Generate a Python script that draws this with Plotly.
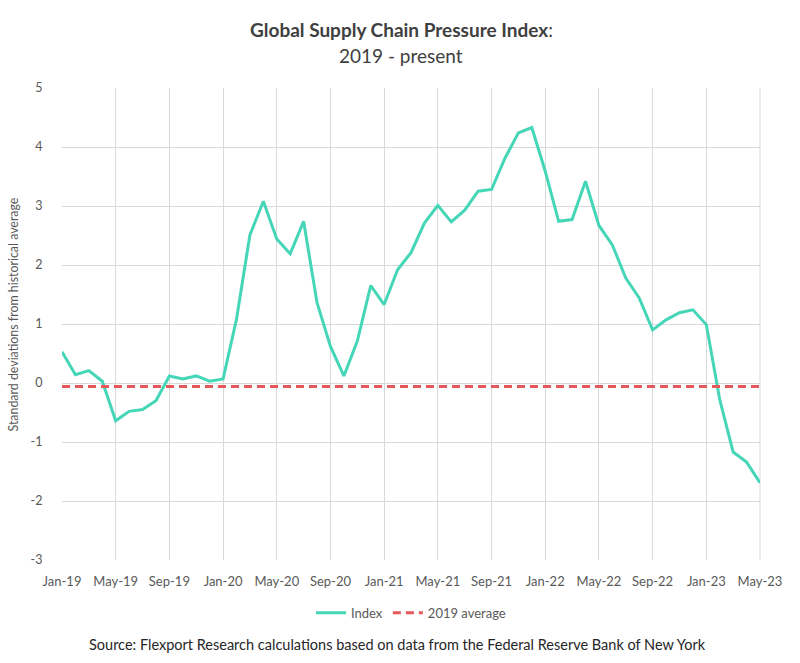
import plotly.graph_objects as go

months = ["Jan-19","Feb-19","Mar-19","Apr-19","May-19","Jun-19","Jul-19","Aug-19","Sep-19","Oct-19","Nov-19","Dec-19",
          "Jan-20","Feb-20","Mar-20","Apr-20","May-20","Jun-20","Jul-20","Aug-20","Sep-20","Oct-20","Nov-20","Dec-20",
          "Jan-21","Feb-21","Mar-21","Apr-21","May-21","Jun-21","Jul-21","Aug-21","Sep-21","Oct-21","Nov-21","Dec-21",
          "Jan-22","Feb-22","Mar-22","Apr-22","May-22","Jun-22","Jul-22","Aug-22","Sep-22","Oct-22","Nov-22","Dec-22",
          "Jan-23","Feb-23","Mar-23","Apr-23","May-23"]

index_values = [0.53, 0.14, 0.21, 0.03, -0.64, -0.48, -0.45, -0.30, 0.12, 0.07, 0.12, 0.03,
                0.07, 1.08, 2.51, 3.08, 2.44, 2.19, 2.74, 1.36, 0.62, 0.12, 0.71, 1.65,
                1.33, 1.92, 2.21, 2.71, 3.01, 2.73, 2.93, 3.25, 3.28, 3.81, 4.24, 4.33,
                3.59, 2.74, 2.77, 3.42, 2.67, 2.34, 1.78, 1.44, 0.90, 1.07, 1.19, 1.24,
                0.99, -0.28, -1.17, -1.34, -1.69]

avg_2019 = -0.06
avg_values = [avg_2019] * len(months)

tick_labels = months[::4]
y_ticks = [-3, -2, -1, 0, 1, 2, 3, 4, 5]
y_tick_text = [str(v) for v in y_ticks]

FONT = "Lato"
fig = go.Figure()
fig.add_trace(go.Scatter(x=months, y=index_values, mode="lines", name="Index",
                         line=dict(color="#45D6B8", width=3)))
fig.add_trace(go.Scatter(x=months, y=avg_values, mode="lines", name="2019 average",
                         line=dict(color="#E5575A", width=3, dash="8px,5px")))

fig.update_layout(
    width=800, height=663,
    margin=dict(l=62, r=40, t=88, b=103),
    paper_bgcolor="white", plot_bgcolor="white",
    font=dict(family=FONT, color="#595959", size=12),
    xaxis=dict(type="category", range=[0, len(months) - 1], tickmode="array",
               tickvals=tick_labels, ticktext=tick_labels,
               showgrid=True, gridcolor="#D9D9D9", gridwidth=1,
               showline=False, zeroline=False, ticks="outside", ticklen=9,
               tickcolor="rgba(0,0,0,0)", tickangle=0,
               tickfont=dict(size=13, color="#595959")),
    yaxis=dict(range=[-3, 5], tickvals=y_ticks, ticktext=y_tick_text, showgrid=True,
               gridcolor="#D9D9D9", gridwidth=1, zeroline=False, showline=False,
               ticks="outside", ticklen=16, tickcolor="rgba(0,0,0,0)",
               tickfont=dict(size=12.5, color="#595959")),
    legend=dict(orientation="h", x=0.5, xanchor="center", y=-0.08, yanchor="top",
                font=dict(size=13, color="#595959")),
    showlegend=True,
)

fig.add_shape(type="line", xref="paper", yref="paper", x0=1, x1=1, y0=0, y1=1,
              line=dict(color="#D9D9D9", width=1), layer="below")

fig.add_annotation(text="<b>Global Supply Chain Pressure Index</b>:",
                   xref="paper", yref="paper", x=0.486, y=1.1229, xanchor="center", yanchor="middle",
                   showarrow=False, font=dict(family=FONT, size=19, color="#404040"))
fig.add_annotation(text="2019 - present",
                   xref="paper", yref="paper", x=0.486, y=1.0699, xanchor="center", yanchor="middle",
                   showarrow=False, font=dict(family=FONT, size=19, color="#404040"))

fig.add_annotation(text="Standard deviations from historical average",
                   xref="paper", yref="paper", x=-0.0688, y=0.52, xanchor="center", yanchor="middle",
                   textangle=-90, showarrow=False, font=dict(family=FONT, size=12.4, color="#595959"))

fig.add_annotation(text="Source: Flexport Research calculations based on data from the Federal Reserve Bank of New York",
                   xref="paper", yref="paper", x=0.481, y=-0.180, xanchor="center", yanchor="middle",
                   showarrow=False, font=dict(family=FONT, size=14.5, color="#262626"))

fig.write_html("out.html")
